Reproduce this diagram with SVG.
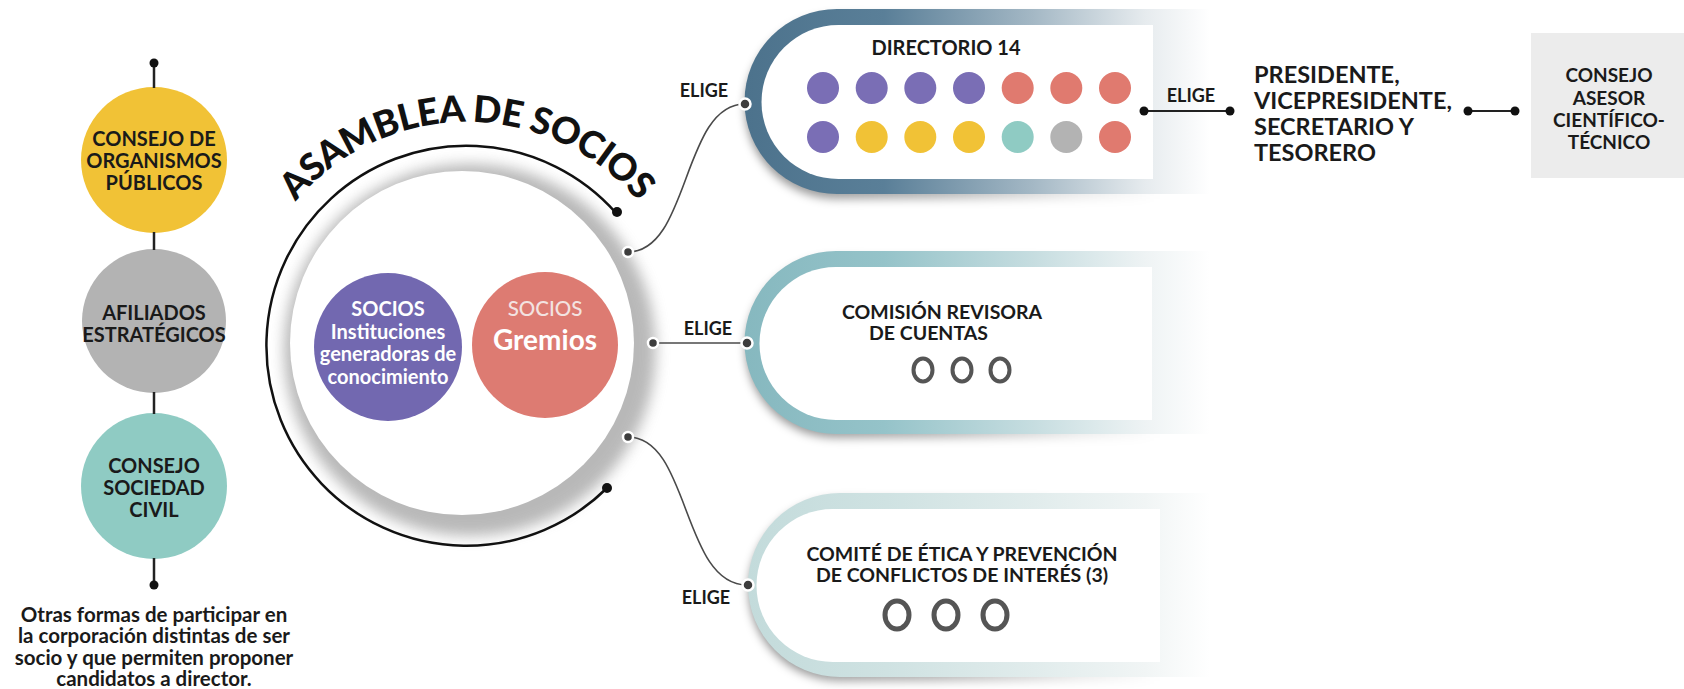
<svg xmlns="http://www.w3.org/2000/svg" width="1684" height="689" viewBox="0 0 1684 689">
<defs>
<style>
.t{font-family:Lato,"Open Sans","Liberation Sans",sans-serif;font-weight:700;fill:#1a1a1a;}
.c{text-anchor:middle;}
.lbl{font-size:20px;}
.lbl2{font-size:19.5px;}
.elige{font-size:18px;text-anchor:middle;}
.wt{fill:#ffffff;}
.conn{fill:none;stroke:#4a4a4a;stroke-width:1.6;}
.vline{stroke:#222;stroke-width:2.5;}
.hline{stroke:#222;stroke-width:2;}
.dot{fill:#3d3d3d;stroke:#fff;stroke-width:2.5;}
.bdot{fill:#111;}
.ring{fill:none;stroke:#555;}
.pu{fill:#7a6eb5;}.re{fill:#e07a6f;}.ye{fill:#f1c236;}.te{fill:#8fcbc3;}.gr{fill:#b3b3b3;}
.shadow{filter:url(#blurS);}
</style>
<linearGradient id="gTop" x1="0" y1="0" x2="1" y2="0">
<stop offset="0" stop-color="#4c728c"/>
<stop offset="0.3" stop-color="#5a7f98"/>
<stop offset="0.62" stop-color="#a4b8c5"/>
<stop offset="0.86" stop-color="#e6ebee"/>
<stop offset="1" stop-color="#ffffff"/>
</linearGradient>
<linearGradient id="gMid" x1="0" y1="0" x2="1" y2="0">
<stop offset="0" stop-color="#86b8bf"/>
<stop offset="0.3" stop-color="#95c3c9"/>
<stop offset="0.62" stop-color="#c6dde0"/>
<stop offset="0.86" stop-color="#eef3f4"/>
<stop offset="1" stop-color="#ffffff"/>
</linearGradient>
<linearGradient id="gBot" x1="0" y1="0" x2="1" y2="0">
<stop offset="0" stop-color="#c3dbdb"/>
<stop offset="0.3" stop-color="#cfe2e2"/>
<stop offset="0.62" stop-color="#e1ecec"/>
<stop offset="0.86" stop-color="#f1f5f5"/>
<stop offset="1" stop-color="#ffffff"/>
</linearGradient>
<linearGradient id="gShadow" x1="0" y1="0" x2="1" y2="0">
<stop offset="0" stop-color="#000" stop-opacity="0.45"/>
<stop offset="0.45" stop-color="#000" stop-opacity="0.3"/>
<stop offset="0.8" stop-color="#000" stop-opacity="0.08"/>
<stop offset="1" stop-color="#000" stop-opacity="0"/>
</linearGradient>
<filter id="blurS" x="-10%" y="-20%" width="120%" height="140%">
<feGaussianBlur stdDeviation="5"/>
</filter>
<filter id="blurBig" x="-20%" y="-20%" width="140%" height="140%">
<feGaussianBlur stdDeviation="7"/>
</filter>
<filter id="soft" x="-20%" y="-20%" width="140%" height="140%">
<feGaussianBlur stdDeviation="0.6"/>
</filter>
<path id="arcText" d="M 243 346 A 224 224 0 0 1 691 346"/>
</defs>
<rect width="1684" height="689" fill="#ffffff"/>

<!-- left column -->
<g id="consejo-organismos">
<circle cx="154" cy="160" r="73" class="ye"/>
<text class="t c lbl" x="154" y="146">CONSEJO DE</text>
<text class="t c lbl" x="154" y="168">ORGANISMOS</text>
<text class="t c lbl" x="154" y="190">PÚBLICOS</text>
</g>
<g id="afiliados">
<circle cx="154" cy="321" r="72" class="gr"/>
<text class="t c lbl" x="154" y="320">AFILIADOS</text>
<text class="t c lbl" x="154" y="342">ESTRATÉGICOS</text>
</g>
<g id="consejo-sociedad">
<circle cx="154" cy="486" r="73" class="te"/>
<text class="t c lbl" x="154" y="473">CONSEJO</text>
<text class="t c lbl" x="154" y="495">SOCIEDAD</text>
<text class="t c lbl" x="154" y="517">CIVIL</text>
</g>
<g id="otras-formas">
<text class="t c" font-size="20.5" x="154" y="622">Otras formas de participar en</text>
<text class="t c" font-size="20.5" x="154" y="643">la corporación distintas de ser</text>
<text class="t c" font-size="20.5" x="154" y="665">socio y que permiten proponer</text>
<text class="t c" font-size="20.5" x="154" y="686">candidatos a director.</text>
</g>

<!-- asamblea -->
<g id="asamblea">
<circle cx="470" cy="350" r="186" fill="#8a8a8a" opacity="0.6" filter="url(#blurBig)"/>
<circle cx="462" cy="343" r="172" fill="#ffffff"/>
<path d="M 616 213 A 200 200 0 1 0 607 488" fill="none" stroke="#111" stroke-width="2.5"/>
<circle class="bdot" cx="617" cy="212" r="5"/>
<circle class="bdot" cx="607" cy="488" r="5"/>
<text class="t" font-size="37" style="font-weight:900;fill:#111"><textPath href="#arcText" startOffset="50%" text-anchor="middle" textLength="390">ASAMBLEA DE SOCIOS</textPath></text>
</g>
<g id="socios-instituciones">
<circle cx="388" cy="347" r="74" fill="#7268b0"/>
<text class="t c wt" font-size="20" x="388" y="316">SOCIOS</text>
<text class="t c wt" font-size="20" x="388" y="339">Instituciones</text>
<text class="t c wt" font-size="20" x="388" y="361">generadoras de</text>
<text class="t c wt" font-size="20" x="388" y="384">conocimiento</text>
</g>
<g id="socios-gremios">
<circle cx="545" cy="345" r="73" fill="#dd7b72"/>
<text class="t c" font-size="20.5" style="font-weight:500;fill:#f3e3e1" x="545" y="316">SOCIOS</text>
<text class="t c wt" font-size="28" x="545" y="350">Gremios</text>
</g>

<!-- directorio -->
<g id="directorio">
<path class="shadow" d="M 837 16 H 1160 V 199 H 837 A 91.5 91.5 0 0 1 837 16 Z" fill="url(#gShadow)"/>
<path d="M 837 9 H 1210 V 194 H 837 A 92.5 92.5 0 0 1 837 9 Z" fill="url(#gTop)"/>
<path d="M 838.5 25 H 1153 V 179 H 838.5 A 77 77 0 0 1 838.5 25 Z" fill="#ffffff"/>
<text class="t c lbl" x="946" y="55">DIRECTORIO 14</text>
<circle class="pu" cx="823" cy="88" r="16"/>
<circle class="pu" cx="871.7" cy="88" r="16"/>
<circle class="pu" cx="920.3" cy="88" r="16"/>
<circle class="pu" cx="969" cy="88" r="16"/>
<circle class="re" cx="1017.7" cy="88" r="16"/>
<circle class="re" cx="1066.3" cy="88" r="16"/>
<circle class="re" cx="1115" cy="88" r="16"/>
<circle class="pu" cx="823" cy="137" r="16"/>
<circle class="ye" cx="871.7" cy="137" r="16"/>
<circle class="ye" cx="920.3" cy="137" r="16"/>
<circle class="ye" cx="969" cy="137" r="16"/>
<circle class="te" cx="1017.7" cy="137" r="16"/>
<circle class="gr" cx="1066.3" cy="137" r="16"/>
<circle class="re" cx="1115" cy="137" r="16"/>
</g>

<!-- presidente -->
<g id="presidente">
<text class="t" font-size="23.5" x="1254" y="83">PRESIDENTE,</text>
<text class="t" font-size="23.5" x="1254" y="109">VICEPRESIDENTE,</text>
<text class="t" font-size="23.5" x="1254" y="135">SECRETARIO Y</text>
<text class="t" font-size="23.5" x="1254" y="161">TESORERO</text>
</g>

<!-- consejo asesor -->
<g id="consejo-asesor">
<rect x="1531" y="33" width="153" height="145" fill="#ececec"/>
<text class="t c" font-size="19" x="1609" y="82">CONSEJO</text>
<text class="t c" font-size="19" x="1609" y="105">ASESOR</text>
<text class="t c" font-size="19" x="1609" y="127">CIENTÍFICO-</text>
<text class="t c" font-size="19" x="1609" y="149">TÉCNICO</text>
</g>

<!-- comision -->
<g id="comision-revisora">
<path class="shadow" d="M 836 258 H 1160 V 438 H 836 A 90 90 0 0 1 836 258 Z" fill="url(#gShadow)"/>
<path d="M 836 251 H 1210 V 434 H 836 A 91.5 91.5 0 0 1 836 251 Z" fill="url(#gMid)"/>
<path d="M 836 267 H 1152 V 420 H 836 A 76.5 76.5 0 0 1 836 267 Z" fill="#ffffff"/>
<text class="t lbl2" x="842" y="319">COMISIÓN REVISORA</text>
<text class="t lbl2" x="869" y="340">DE CUENTAS</text>
<g filter="url(#soft)">
<ellipse class="ring" stroke-width="4" cx="923" cy="370" rx="9.5" ry="11.5"/>
<ellipse class="ring" stroke-width="4" cx="962" cy="370" rx="9.5" ry="11.5"/>
<ellipse class="ring" stroke-width="4" cx="1000" cy="370" rx="9.5" ry="11.5"/>
</g>
</g>

<!-- comite -->
<g id="comite-etica">
<path class="shadow" d="M 840 499 H 1160 V 681 H 840 A 91 91 0 0 1 840 499 Z" fill="url(#gShadow)"/>
<path d="M 840 493 H 1210 V 677 H 840 A 92 92 0 0 1 840 493 Z" fill="url(#gBot)"/>
<path d="M 833 509 H 1160 V 662 H 833 A 76.5 76.5 0 0 1 833 509 Z" fill="#ffffff"/>
<text class="t c lbl2" x="962" y="561">COMITÉ DE ÉTICA Y PREVENCIÓN</text>
<text class="t c lbl2" x="962" y="582">DE CONFLICTOS DE INTERÉS (3)</text>
<g filter="url(#soft)">
<ellipse class="ring" stroke-width="5" cx="897" cy="615" rx="12" ry="14"/>
<ellipse class="ring" stroke-width="5" cx="946" cy="615" rx="12" ry="14"/>
<ellipse class="ring" stroke-width="5" cx="995" cy="615" rx="12" ry="14"/>
</g>
</g>

<!-- connectors -->
<g id="connectors">
<line class="vline" x1="154" y1="63" x2="154" y2="88"/>
<line class="vline" x1="154" y1="232" x2="154" y2="250"/>
<line class="vline" x1="154" y1="392" x2="154" y2="414"/>
<line class="vline" x1="154" y1="558" x2="154" y2="585"/>
<circle class="bdot" cx="154" cy="63" r="4.5"/>
<circle class="bdot" cx="154" cy="585" r="4.5"/>
<path class="conn" d="M 628 252 C 690 252, 682 104, 745 104"/>
<line class="conn" x1="653" y1="343" x2="747" y2="343"/>
<path class="conn" d="M 628 437 C 690 437, 682 585, 747 585"/>
<circle class="dot" cx="628" cy="252" r="5"/>
<circle class="dot" cx="653" cy="343" r="5"/>
<circle class="dot" cx="628" cy="437" r="5"/>
<circle class="dot" cx="745" cy="104" r="5.5"/>
<circle class="dot" cx="747" cy="343" r="5.5"/>
<circle class="dot" cx="748" cy="585" r="5.5"/>
<line class="hline" x1="1144" y1="111" x2="1230" y2="111"/>
<circle class="bdot" cx="1144" cy="111" r="4.5"/>
<circle class="bdot" cx="1230" cy="111" r="4.5"/>
<line class="hline" x1="1468" y1="111" x2="1515" y2="111"/>
<circle class="bdot" cx="1468" cy="111" r="4.5"/>
<circle class="bdot" cx="1515" cy="111" r="4.5"/>
<text class="t elige" x="704" y="97">ELIGE</text>
<text class="t elige" x="708" y="335">ELIGE</text>
<text class="t elige" x="706" y="604">ELIGE</text>
<text class="t elige" x="1191" y="102">ELIGE</text>
</g>
</svg>
